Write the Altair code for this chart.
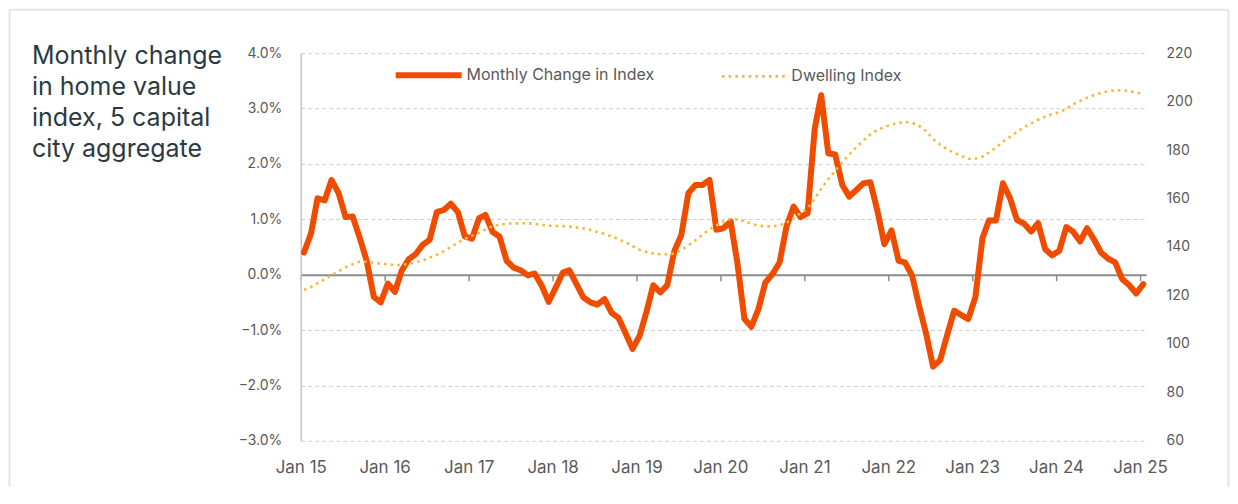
import altair as alt
import pandas as pd

# ---------------- data ----------------
months = [f"{2015 + k // 12}-{k % 12 + 1:02d}-15" for k in range(121)]

monthly_change = [
    0.40, 0.75, 1.38, 1.34, 1.71, 1.47, 1.04, 1.05, 0.66, 0.25, -0.40, -0.50,
    -0.16, -0.31, 0.07, 0.28, 0.37, 0.54, 0.63, 1.13, 1.17, 1.28, 1.13, 0.69,
    0.65, 1.02, 1.08, 0.77, 0.69, 0.25, 0.13, 0.08, -0.01, 0.02, -0.20, -0.49,
    -0.23, 0.04, 0.08, -0.17, -0.41, -0.50, -0.54, -0.44, -0.69, -0.78, -1.06, -1.34,
    -1.10, -0.65, -0.19, -0.32, -0.19, 0.43, 0.71, 1.47, 1.62, 1.62, 1.71, 0.81,
    0.84, 0.96, 0.22, -0.80, -0.94, -0.62, -0.14, 0.01, 0.22, 0.87, 1.23, 1.04,
    1.11, 2.64, 3.24, 2.19, 2.17, 1.62, 1.41, 1.53, 1.65, 1.67, 1.15, 0.55,
    0.80, 0.25, 0.22, -0.02, -0.56, -1.07, -1.66, -1.54, -1.08, -0.65, -0.73, -0.80,
    -0.41, 0.66, 0.98, 0.98, 1.65, 1.38, 0.99, 0.92, 0.78, 0.93, 0.46, 0.35,
    0.43, 0.86, 0.78, 0.60, 0.84, 0.63, 0.40, 0.29, 0.22, -0.08, -0.19, -0.34,
    -0.17,
]

dwelling_index = [
    122.3, 123.5, 125.0, 126.7, 128.4, 130.0, 131.6, 132.9, 134.0, 133.9, 133.5, 133.1,
    132.8, 132.6, 132.6, 133.0, 133.7, 134.5, 135.6, 136.8, 138.3, 140.0, 141.8, 143.3,
    144.6, 145.8, 147.3, 148.6, 149.3, 149.6, 149.7, 149.8, 149.8, 149.5, 149.1, 148.8,
    148.7, 148.6, 148.4, 148.1, 147.7, 147.0, 146.2, 145.4, 144.4, 143.2, 141.9, 140.4,
    138.8, 137.9, 137.3, 137.0, 137.0, 137.3, 138.8, 140.6, 142.8, 145.0, 147.3, 148.9,
    150.4, 151.6, 151.4, 150.5, 149.6, 148.9, 148.5, 148.5, 149.0, 150.0, 151.8, 154.0,
    156.0, 160.0, 164.0, 168.0, 171.5, 175.0, 178.2, 181.2, 184.0, 186.5, 188.3, 189.5,
    190.5, 191.2, 191.6, 191.3, 190.0, 187.8, 184.5, 182.2, 180.3, 178.9, 177.6, 176.4,
    176.4, 177.3, 179.0, 181.0, 183.5, 185.5, 187.5, 189.5, 191.0, 192.5, 193.8, 194.8,
    195.6, 197.0, 198.9, 200.3, 201.6, 202.7, 203.6, 204.3, 204.6, 204.7, 204.4, 203.7,
    203.2,
]

series_names = ["Monthly Change in Index", "Dwelling Index"]
title_lines = ["Monthly change", "in home value", "index, 5 capital", "city aggregate"]
left_ticks = [-3, -2, -1, 0, 1, 2, 3, 4]
right_ticks = [60, 80, 100, 120, 140, 160, 180, 200, 220]
year_ticks = list(range(2015, 2026))

df = pd.DataFrame({"date": months, "change": monthly_change, "index": dwelling_index})

# ---------------- style ----------------
FONT = "Inter"
ORANGE = "#F04C00"
GOLD = "#F5B937"
GREY_TXT = "#595959"
TITLE_CLR = "#2B3A42"
FRAME = "#E4E4E4"

x_enc = alt.X(
    "date:T",
    scale=alt.Scale(
        type="utc",
        domain=[
            alt.DateTime(year=2015, month=1, date=1, utc=True),
            alt.DateTime(year=2025, month=1, date=27, utc=True),
        ],
    ),
    axis=alt.Axis(
        values=[alt.DateTime(year=y, month=1, date=1, utc=True) for y in year_ticks],
        labelExpr="'Jan ' + utcFormat(datum.value, '%y')",
        offset=-166.3,
        domainColor="#8C8C8C",
        domainWidth=2,
        tickColor="#8C8C8C",
        tickWidth=1.5,
        tickSize=6,
        labelPadding=179,
        labelFlush=False,
        labelOverlap=False,
        grid=False,
        title=None,
        labelFontSize=17,
        labelColor=GREY_TXT,
        labelFont=FONT,
    ),
)

legend = alt.Legend(
    title=None,
    orient="none",
    direction="horizontal",
    legendX=92,
    legendY=-14,
    symbolType="stroke",
    symbolSize=4356,
    labelOffset=2,
    labelLimit=400,
    columnPadding=62,
    labelFontSize=16,
    labelColor=GREY_TXT,
    labelFont=FONT,
    padding=0,
)

color = alt.Color(
    "series:N",
    scale=alt.Scale(domain=series_names, range=[ORANGE, GOLD]),
    legend=legend,
)
dash = alt.StrokeDash(
    "series:N",
    scale=alt.Scale(domain=series_names, range=[[1, 0], [2.6, 4.1]]),
    legend=legend,
)
width = alt.StrokeWidth(
    "series:N",
    scale=alt.Scale(domain=series_names, range=[6, 2.6]),
    legend=legend,
)

change_line = (
    alt.Chart(df)
    .transform_calculate(series=f"'{series_names[0]}'")
    .mark_line(strokeJoin="round", strokeCap="round")
    .encode(
        x=x_enc,
        y=alt.Y(
            "change:Q",
            scale=alt.Scale(domain=[-3, 4], nice=False, zero=False),
            axis=alt.Axis(
                values=left_ticks,
                labelExpr="format(datum.value, '.1f') + '%'",
                grid=True,
                gridDash=[4, 3],
                gridColor="#CFCFCF",
                gridWidth=1,
                domainColor="#C4C4C4",
                domainWidth=1.5,
                ticks=False,
                labelPadding=19,
                labelFontSize=14,
                labelColor=GREY_TXT,
                labelFont=FONT,
                title=None,
            ),
        ),
        color=color,
        strokeDash=dash,
        strokeWidth=width,
    )
)

dwelling_line = (
    alt.Chart(df)
    .transform_calculate(series=f"'{series_names[1]}'")
    .mark_line()
    .encode(
        x=x_enc,
        y=alt.Y(
            "index:Q",
            scale=alt.Scale(domain=[60, 220], nice=False, zero=False),
            axis=alt.Axis(
                orient="right",
                values=right_ticks,
                grid=False,
                domain=False,
                ticks=False,
                labelPadding=20,
                labelFontSize=14,
                labelColor=GREY_TXT,
                labelFont=FONT,
                title=None,
            ),
        ),
        color=color,
        strokeDash=dash,
        strokeWidth=width,
    )
)

blank = alt.Data(values=[{}])

title_text = (
    alt.Chart(blank)
    .mark_text(
        align="left",
        baseline="alphabetic",
        fontSize=25,
        lineHeight=31,
        font=FONT,
        color=TITLE_CLR,
        text=title_lines,
    )
    .encode(x=alt.value(-269), y=alt.value(11))
)

frame_left = alt.Chart(blank).mark_rule(color=FRAME, strokeWidth=2).encode(
    x=alt.value(-291.5), y=alt.value(-43.5), y2=alt.value(434)
)
frame_top = alt.Chart(blank).mark_rule(color=FRAME, strokeWidth=2).encode(
    x=alt.value(-291.5), x2=alt.value(928.5), y=alt.value(-43.5)
)
frame_right = alt.Chart(blank).mark_rule(color=FRAME, strokeWidth=2).encode(
    x=alt.value(928.5), y=alt.value(-43.5), y2=alt.value(434)
)

chart = (
    alt.layer(frame_left, frame_top, frame_right, title_text, change_line, dwelling_line)
    .resolve_scale(y="independent")
    .properties(width=846, height=388, padding=0, background="white")
    .configure_view(stroke=None)
)

chart.save("out.html", embed_options={"renderer": "svg", "actions": False})
